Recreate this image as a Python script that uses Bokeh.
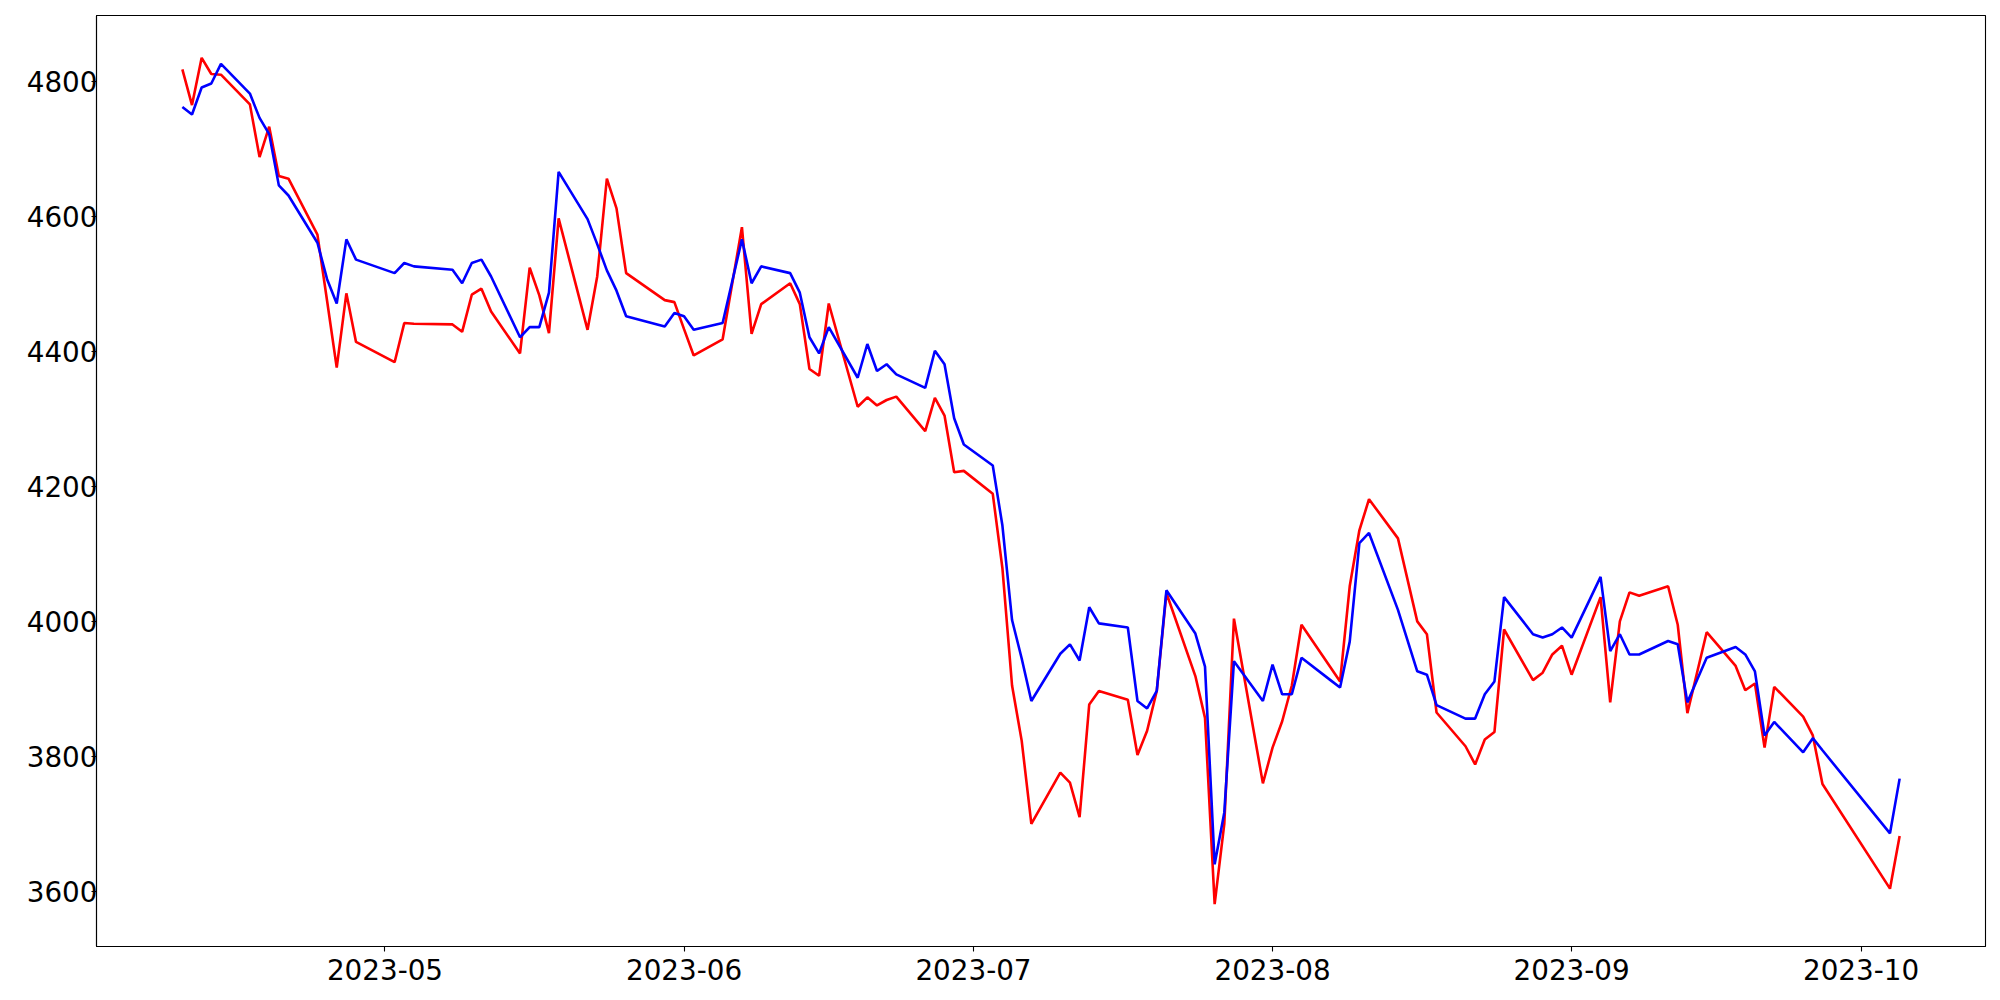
import pandas as pd
from bokeh.plotting import figure
from bokeh.models import FixedTicker, DatetimeTickFormatter, Range1d
from bokeh.embed import file_html
from bokeh.resources import INLINE

dates = [
    "2023-04-10", "2023-04-11", "2023-04-12", "2023-04-13", "2023-04-14",
    "2023-04-17", "2023-04-18", "2023-04-19", "2023-04-20", "2023-04-21",
    "2023-04-24", "2023-04-25", "2023-04-26", "2023-04-27", "2023-04-28",
    "2023-05-02", "2023-05-03", "2023-05-04", "2023-05-08", "2023-05-09",
    "2023-05-10", "2023-05-11", "2023-05-12", "2023-05-15", "2023-05-16",
    "2023-05-17", "2023-05-18", "2023-05-19", "2023-05-22", "2023-05-23",
    "2023-05-24", "2023-05-25", "2023-05-26", "2023-05-30", "2023-05-31",
    "2023-06-01", "2023-06-02", "2023-06-05", "2023-06-07", "2023-06-08",
    "2023-06-09", "2023-06-12", "2023-06-13", "2023-06-14", "2023-06-15",
    "2023-06-16", "2023-06-19", "2023-06-20", "2023-06-21", "2023-06-22",
    "2023-06-23", "2023-06-26", "2023-06-27", "2023-06-28", "2023-06-29",
    "2023-06-30",
    "2023-07-03", "2023-07-04", "2023-07-05", "2023-07-06", "2023-07-07",
    "2023-07-10", "2023-07-11", "2023-07-12", "2023-07-13", "2023-07-14",
    "2023-07-17", "2023-07-18", "2023-07-19", "2023-07-20", "2023-07-21",
    "2023-07-24", "2023-07-25", "2023-07-26", "2023-07-27", "2023-07-28",
    "2023-07-31",
    "2023-08-01", "2023-08-02", "2023-08-03", "2023-08-04", "2023-08-07",
    "2023-08-08", "2023-08-09", "2023-08-10", "2023-08-11", "2023-08-14",
    "2023-08-16", "2023-08-17", "2023-08-18", "2023-08-21", "2023-08-22",
    "2023-08-23", "2023-08-24", "2023-08-25", "2023-08-28", "2023-08-29",
    "2023-08-30", "2023-08-31",
    "2023-09-01", "2023-09-04", "2023-09-05", "2023-09-06", "2023-09-07",
    "2023-09-08", "2023-09-11", "2023-09-12", "2023-09-13", "2023-09-14",
    "2023-09-15", "2023-09-18", "2023-09-19", "2023-09-20", "2023-09-21",
    "2023-09-22", "2023-09-25", "2023-09-26", "2023-09-27",
    "2023-10-04", "2023-10-05",
]

red_values = [
    4818, 4765, 4835, 4811, 4810, 4766, 4688, 4733, 4660, 4656, 4573, 4475, 4376, 4486, 4414,
    4384, 4442, 4441, 4440, 4429, 4484, 4493, 4459, 4397, 4524, 4483, 4427, 4597, 4432, 4511,
    4656, 4612, 4516, 4476, 4473,
    4433, 4394, 4418, 4584, 4426, 4470, 4501, 4470, 4374, 4364, 4471, 4318, 4332, 4320, 4328,
    4333, 4282, 4331, 4305, 4221, 4223,
    4189, 4079, 3905, 3823, 3700, 3776, 3761, 3710, 3877, 3897, 3884, 3802, 3838, 3897, 4042,
    3919, 3857, 3581, 3700, 4004, 3760,
    3813, 3852, 3905, 3995, 3932, 3911, 4052, 4135, 4181, 4123, 4000, 3981, 3865, 3815, 3788,
    3825, 3836, 3988, 3913, 3924, 3951, 3964,
    3921, 4036, 3880, 4000, 4043, 4038, 4052, 3995, 3864, 3924, 3984, 3934, 3898, 3908, 3813,
    3903, 3859, 3831, 3759,
    3604, 3682,
]

blue_values = [
    4762, 4751, 4791, 4797, 4826, 4782, 4746, 4722, 4646, 4631, 4561, 4507, 4471, 4566, 4536,
    4516, 4531, 4526, 4521, 4501, 4531, 4536, 4511, 4421, 4436, 4436, 4487, 4666, 4596, 4559,
    4520, 4490, 4452, 4437, 4457,
    4452, 4432, 4442, 4566, 4501, 4526, 4516, 4487, 4421, 4397, 4436, 4361, 4411, 4371, 4381,
    4366, 4346, 4401, 4381, 4301, 4262,
    4231, 4142, 4002, 3945, 3882, 3952, 3966, 3942, 4021, 3997, 3991, 3882, 3871, 3897, 4046,
    3982, 3933, 3640, 3717, 3941, 3882,
    3936, 3892, 3892, 3946, 3913, 3902, 3970, 4116, 4131, 4017, 3926, 3921, 3876, 3856, 3856,
    3892, 3911, 4036, 3981, 3976, 3981, 3991,
    3976, 4066, 3956, 3981, 3951, 3951, 3971, 3966, 3880, 3913, 3946, 3962, 3951, 3926, 3831,
    3851, 3806, 3827, 3809,
    3686, 3767,
]

x_tick_dates = ["2023-05-01", "2023-06-01", "2023-07-01", "2023-08-01", "2023-09-01", "2023-10-01"]
y_ticks = [3600, 3800, 4000, 4200, 4400, 4600, 4800]

x = pd.to_datetime(dates)
x_ms = [t.timestamp() * 1000 for t in x]
tick_ms = [pd.Timestamp(d).timestamp() * 1000 for d in x_tick_dates]

xspan = x_ms[-1] - x_ms[0]
allv = red_values + blue_values
yspan = max(allv) - min(allv)

p = figure(
    x_axis_type="datetime",
    output_backend="svg",
    toolbar_location=None,
    frame_width=1889,
    frame_height=931,
    min_border_left=96,
    min_border_right=7,
    min_border_top=15,
    min_border_bottom=46,
    x_range=Range1d(x_ms[0] - 0.05 * xspan, x_ms[-1] + 0.05 * xspan),
    y_range=Range1d(min(allv) - 0.05 * yspan, max(allv) + 0.05 * yspan),
)

p.line(x_ms, red_values, line_color="#ff0000", line_width=2.6)
p.line(x_ms, blue_values, line_color="#0000ff", line_width=2.6)

p.xgrid.visible = False
p.ygrid.visible = False
p.outline_line_color = "black"
p.outline_line_width = 1.1
p.outline_line_alpha = 1.0

p.xaxis.ticker = FixedTicker(ticks=tick_ms)
fmt = "%Y-%m"
p.xaxis.formatter = DatetimeTickFormatter(
    milliseconds=fmt, seconds=fmt, minsec=fmt, minutes=fmt, hourmin=fmt,
    hours=fmt, days=fmt, months=fmt, years=fmt,
)
p.yaxis.ticker = FixedTicker(ticks=y_ticks)

for ax in (p.xaxis, p.yaxis):
    ax.axis_line_color = "black"
    ax.axis_line_width = 1.1
    ax.major_tick_line_color = "black"
    ax.major_tick_line_width = 1.1
    ax.major_tick_out = 5
    ax.major_tick_in = 0
    ax.minor_tick_line_color = None
    ax.major_label_text_font = "DejaVu Sans"
    ax.major_label_text_font_size = "27.8px"
    ax.major_label_text_color = "black"

p.xaxis.major_label_standoff = 7
p.yaxis.major_label_standoff = -6

p.background_fill_color = "white"
p.border_fill_color = "white"

open("out.html", "w").write(file_html(p, INLINE))
